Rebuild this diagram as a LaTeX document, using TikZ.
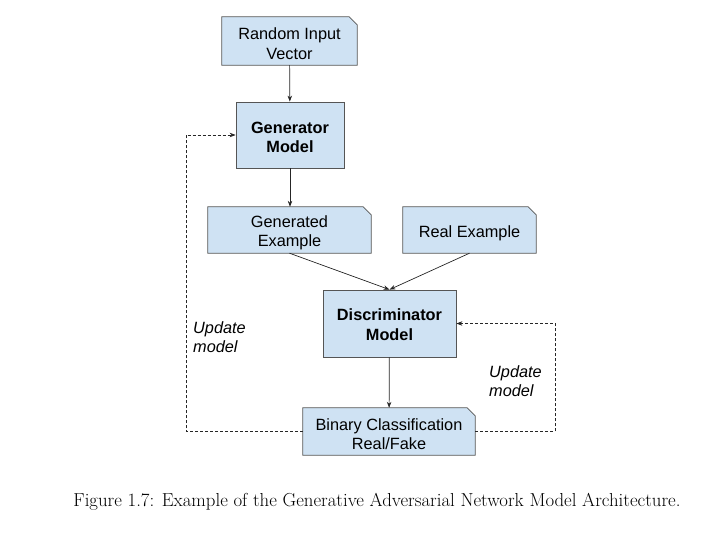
\documentclass[tikz,border=0pt]{standalone}
\usepackage{fontspec}
\newfontfamily\boxfont{Liberation Sans}
\usetikzlibrary{arrows.meta,backgrounds}
\definecolor{boxfill}{HTML}{CFE2F3}
\definecolor{boxline}{HTML}{555555}
\newcommand\dstrut{\rule{0pt}{17.5pt}}
\newcommand\mstrut[1]{\rule{0pt}{#1}}
\begin{document}
\begin{tikzpicture}[x=1pt,y=-1pt,
  base/.style={rectangle,inner sep=0pt,align=center,
    font=\boxfont\fontsize{16.3}{19.5}\selectfont},
  model/.style={base,draw=boxline,line width=0.8pt,fill=boxfill,font=\boxfont\bfseries\fontsize{16.3}{19.5}\selectfont},
  data/.style={base},
  frame/.style={draw=boxline,line width=0.8pt,fill=boxfill,line join=miter},
  conn/.style={line width=0.7pt,draw=black!85,-{Stealth[length=6pt,width=4.5pt]}},
  fb/.style={conn,dash pattern=on 3pt off 2pt},
  lbl/.style={font=\boxfont\itshape\fontsize{16.3}{19}\selectfont,align=left,anchor=north west,inner sep=0pt}
]
\useasboundingbox (0,0) rectangle (717,550);
\node[data,minimum width=135pt,minimum height=48pt] (rand) at (289.5,41) {\dstrut Random Input\\Vector};
\node[model,minimum width=108pt,minimum height=66pt] (gen) at (290,135) {\mstrut{16pt}Generator\\Model};
\node[data,minimum width=163pt,minimum height=46pt] (gex) at (289.5,230) {\dstrut Generated\\Example};
\node[data,minimum width=133pt,minimum height=46pt] (real) at (469.5,230) {\dstrut Real Example};
\node[model,minimum width=133pt,minimum height=67pt] (disc) at (389.5,323.5) {\mstrut{14pt}Discriminator\\Model};
\node[data,minimum width=172pt,minimum height=47pt] (bin) at (389,431.5) {\dstrut Binary Classification\\Real/Fake};
\begin{scope}[on background layer]
\foreach \n in {rand,gex,real,bin}
  \draw[frame] (\n.south west) -- (\n.north west) -- ([xshift=-8pt]\n.north east)
    -- ([yshift=-8pt]\n.north east) -- (\n.south east) -- cycle;
\end{scope}
\coordinate (lx) at (186,0);
\coordinate (rx) at (555,0);
\draw[conn] (rand) -- (gen);
\draw[conn] (gen) -- (gex.north -| gen.south);
\draw[conn] (gex.south) -- (disc.north);
\draw[conn] (real.south) -- (disc.north);
\draw[conn] (disc) -- (bin);
\draw[fb] (bin.west) -- (bin.west -| lx) -- (gen.west -| lx) -- (gen.west);
\draw[fb] (bin.east) -- (bin.east -| rx) -- (disc.east -| rx) -- (disc.east);
\node[lbl] (l1) at (193,321) {Update\\model};
\node[lbl] (l2) at (489,365) {Update\\model};
\node[font=\fontsize{18.8}{22}\selectfont,inner sep=0pt] (cap) at (377,502) {Figure 1.7: Example of the Generative Adversarial Network Model Architecture.};
\end{tikzpicture}
\end{document}
